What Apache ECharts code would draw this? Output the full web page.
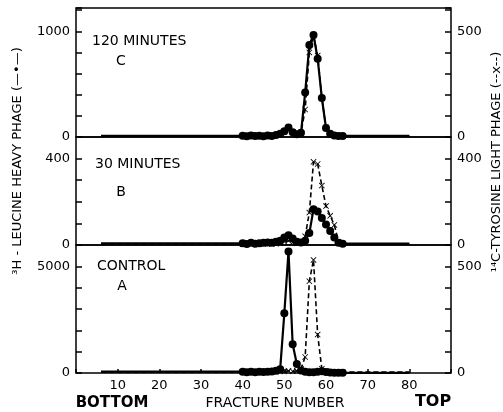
<!DOCTYPE html>
<html>
<head>
    <meta charset="UTF-8">
    <script src="https://cdn.jsdelivr.net/npm/echarts@6/dist/echarts.min.js"></script>
    <title>Fracture profiles</title>
    <style>body{margin:0;background:#fff;}</style>
</head>
<body>
    <div id="main" style="width:503px;height:412px;"></div>
    <script type="text/javascript">
        // fraction numbers that carry points
        var fractions = [40,41,42,43,44,45,46,47,48,49,50,51,52,53,54,55,56,57,58,59,60,61,62,63,64];
        // flat stretch drawn from fraction 6 to 80
        var baseStart = 6, baseEnd = 80;

        // C - 120 minutes
        var leucineC  = [12,8,14,10,12,8,14,10,18,30,55,90,45,25,40,420,870,965,740,370,85,30,15,10,10];
        var tyrosineC = [5,6,5,6,5,6,5,6,8,12,25,40,22,12,20,130,400,480,385,185,45,15,8,6,5];
        // B - 30 minutes
        var leucineB  = [8,5,10,6,8,10,12,10,15,20,35,45,30,15,12,20,55,165,155,125,95,65,35,10,6];
        var tyrosineB = [4,5,4,5,4,5,6,5,6,8,15,20,12,8,10,40,150,385,375,275,180,135,93,15,6];
        // A - control
        var leucineA  = [60,40,60,40,60,50,60,70,100,180,2800,5700,1350,420,120,60,40,30,60,80,50,20,10,10,10];
        var tyrosineA = [4,5,4,5,4,5,5,6,6,8,8,10,8,10,20,75,430,530,180,20,10,6,5,5,5];

        // tick labels
        var xLabels = [10,20,30,40,50,60,70,80];
        var leftLabelsC = [0,1000], rightLabelsC = [0,500];
        var leftLabelsB = [0,400],  rightLabelsB = [0,400];
        var leftLabelsA = [0,5000], rightLabelsA = [0,500];

        var myChart = echarts.init(document.getElementById('main'));
        var font = 'DejaVu Sans';

        function pts(vals) {
            var d = [{value: [baseStart, vals[0]], symbol: 'none'}];
            for (var i = 0; i < fractions.length; i++) d.push([fractions[i], vals[i]]);
            d.push({value: [baseEnd, vals[vals.length - 1]], symbol: 'none'});
            return d;
        }
        function only(list) {
            return function (v) { return list.indexOf(v) >= 0 ? v : ''; };
        }
        var crossPath = 'path://M0,1L1,0L5,4L9,0L10,1L6,5L10,9L9,10L5,6L1,10L0,9L4,5Z';

        function leucine(vals, g) {
            return {type: 'line', xAxisIndex: g, yAxisIndex: g * 2, data: pts(vals),
                symbol: 'circle', symbolSize: 8, itemStyle: {color: '#000'},
                lineStyle: {color: '#000', width: 2.2}, animation: false};
        }
        function tyrosine(vals, g) {
            return {type: 'line', xAxisIndex: g, yAxisIndex: g * 2 + 1, data: pts(vals),
                symbol: crossPath, symbolSize: 6, itemStyle: {color: '#000'},
                lineStyle: {color: '#000', width: 1.6, type: [5, 3]}, animation: false};
        }
        function yAx(g, pos, max, interval, labels) {
            return {type: 'value', gridIndex: g, position: pos, min: 0, max: max, interval: interval,
                axisLine: {show: false}, splitLine: {show: false},
                axisTick: {inside: true, length: 6, lineStyle: {color: '#000', width: 1.5}},
                axisLabel: {formatter: only(labels), color: '#000', fontFamily: font, fontSize: 13, margin: 6}};
        }
        function xAx(g, bottom) {
            return {type: 'value', gridIndex: g, min: 0, max: 90, interval: 10,
                axisLine: {show: false}, splitLine: {show: false},
                axisTick: {show: bottom, inside: true, length: 4, lineStyle: {color: '#000', width: 1.5}},
                axisLabel: {show: bottom, formatter: only(xLabels), color: '#000', fontFamily: font, fontSize: 13, margin: 6}};
        }
        var frame = {left: 76, right: 52, show: true, borderColor: '#000', borderWidth: 1.5};

        function txt(t, x, y, size, weight, rot) {
            return {type: 'text', x: x, y: y, rotation: rot || 0,
                style: {text: t, x: 0, y: 0, fill: '#000', align: 'center', verticalAlign: 'middle',
                    font: (weight || 'normal') + ' ' + size + 'px "' + font + '"'}};
        }

        var option = {
            backgroundColor: '#fff',
            grid: [
                Object.assign({top: 8, height: 129}, frame),
                Object.assign({top: 137, height: 108}, frame),
                Object.assign({top: 245, height: 128}, frame)
            ],
            xAxis: [xAx(0, false), xAx(1, false), xAx(2, true)],
            yAxis: [
                yAx(0, 'left', 1220, 200, leftLabelsC), yAx(0, 'right', 610, 100, rightLabelsC),
                yAx(1, 'left', 500, 100, leftLabelsB),  yAx(1, 'right', 500, 100, rightLabelsB),
                yAx(2, 'left', 6000, 1000, leftLabelsA), yAx(2, 'right', 600, 100, rightLabelsA)
            ],
            series: [
                leucine(leucineC, 0), tyrosine(tyrosineC, 0),
                leucine(leucineB, 1), tyrosine(tyrosineB, 1),
                leucine(leucineA, 2), tyrosine(tyrosineA, 2)
            ],
            graphic: [
                {type: 'text', left: 92, top: 34, style: {text: '120 MINUTES', fill: '#000', font: '14px "' + font + '"'}},
                txt('C', 121, 61, 14),
                {type: 'text', left: 95, top: 157, style: {text: '30 MINUTES', fill: '#000', font: '14px "' + font + '"'}},
                txt('B', 121, 192, 14),
                {type: 'text', left: 97, top: 259, style: {text: 'CONTROL', fill: '#000', font: '14px "' + font + '"'}},
                txt('A', 122, 286, 14),
                txt('BOTTOM', 112, 403, 15, 'bold'),
                txt('FRACTURE NUMBER', 275, 403, 14),
                txt('TOP', 433, 402, 16, 'bold'),
                txt('\u00b3H - LEUCINE HEAVY PHAGE (\u2014\u2022\u2014)', 18, 161, 13, 'normal', Math.PI / 2),
                txt('\u00b9\u2074C-TYROSINE LIGHT PHAGE (--x--)', 497, 162, 13, 'normal', Math.PI / 2)
            ]
        };

        myChart.setOption(option);
    </script>
</body>
</html>
